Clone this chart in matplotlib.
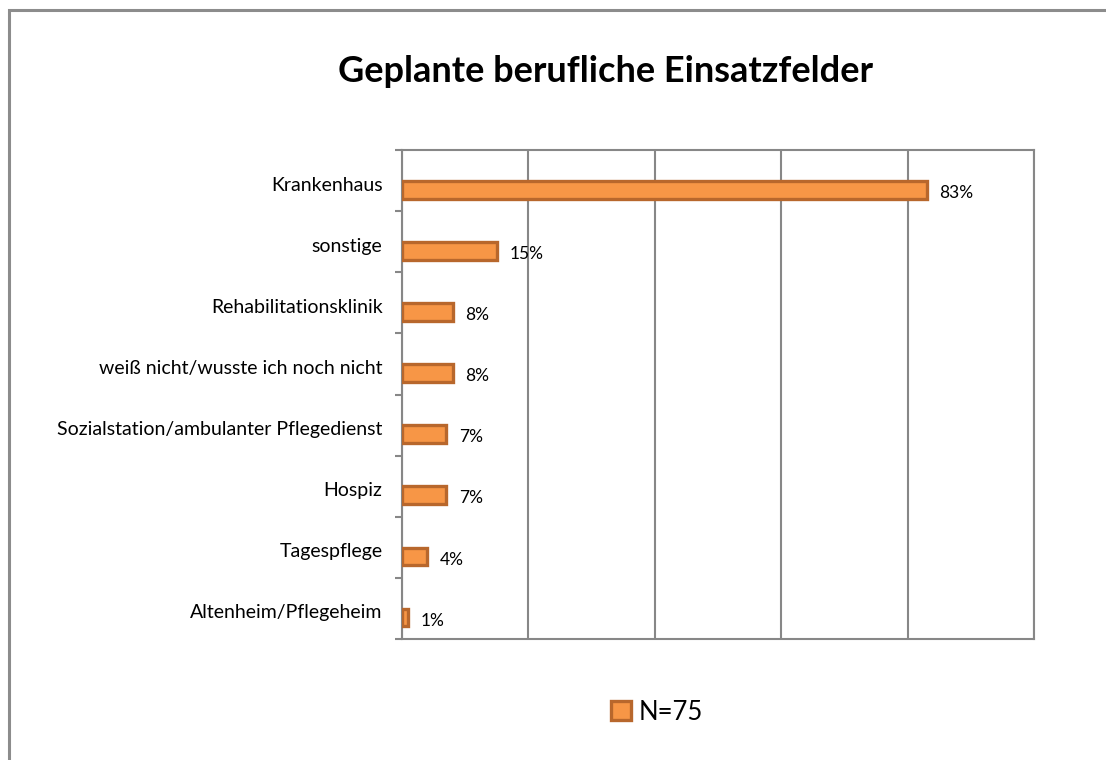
import matplotlib
matplotlib.use('Agg')
import matplotlib.pyplot as plt
from matplotlib.patches import Rectangle, Patch
import numpy as np

ORANGE = '#F79646'
EDGE = '#B8672C'
GRID = '#878787'
plt.rcParams['font.family'] = ['Lato', 'DejaVu Sans']

categories = ['Krankenhaus', 'sonstige', 'Rehabilitationsklinik',
              'weiß nicht/wusste ich noch nicht',
              'Sozialstation/ambulanter Pflegedienst', 'Hospiz',
              'Tagespflege', 'Altenheim/Pflegeheim']
values = [83, 15, 8, 8, 7, 7, 4, 1]
series_name = 'N=75'

fig = plt.figure(figsize=(11.06, 7.6), dpi=100)
# outer chart border (runs off the right and bottom edges)
fig.patches.append(Rectangle((9 / 1106, -0.05), 1.2, 1 - 10 / 760 + 0.05,
                             transform=fig.transFigure, fill=False,
                             edgecolor='#8c8c8c', linewidth=2.2))

ax = fig.add_axes([402 / 1106, 1 - 639 / 760, (1034 - 402) / 1106, (639 - 150) / 760])
y = np.arange(len(categories))
bars = ax.barh(y + 0.15, values, height=0.29, color=ORANGE, edgecolor=EDGE,
               linewidth=2.4, label=series_name, zorder=3)

ax.set_xlim(0, 100)
ax.set_ylim(len(categories) - 0.5, -0.5)
ax.set_xticks(np.arange(0, 101, 20))
ax.set_xticklabels([])
ax.tick_params(axis='x', length=0)
ax.grid(axis='x', color=GRID, linewidth=1.5, zorder=0)
ax.set_yticks(y + 0.05)
ax.set_yticklabels(categories, fontsize=14)
ax.tick_params(axis='y', length=0, pad=14)
ax.set_yticks(np.arange(-0.5, len(categories), 1), minor=True)
ax.tick_params(axis='y', which='minor', length=5, color=GRID, width=1.5)
for s in ax.spines.values():
    s.set_color(GRID)
    s.set_linewidth(1.5)

for bar, v in zip(bars, values):
    ax.text(bar.get_width() + 2, bar.get_y() + bar.get_height() / 2 + 0.05, f'{v}%',
            va='center', ha='left', fontsize=12.5)

fig.text(606 / 1106, 1 - 72 / 760, 'Geplante berufliche Einsatzfelder',
         ha='center', va='center', fontsize=26, fontweight='bold')

handle = Patch(facecolor=ORANGE, edgecolor=EDGE, linewidth=2.4)
fig.legend([handle], [series_name], loc='center', bbox_to_anchor=(657 / 1106, 1 - 712 / 760),
           frameon=False, fontsize=18.5, handlelength=0.8, handleheight=0.8, handletextpad=0.3)

fig.savefig('out.png', dpi=100)
